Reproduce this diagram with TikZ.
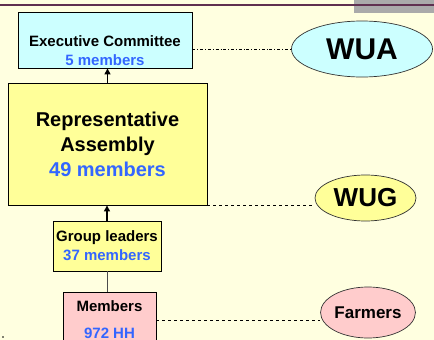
\documentclass[tikz,border=0pt]{standalone}
\usepackage{fontspec}
\setmainfont{Liberation Sans}
\usetikzlibrary{arrows.meta, positioning, shapes.geometric}
\definecolor{orgCream}{RGB}{255, 255, 224}
\definecolor{orgCyan}{RGB}{204, 255, 255}
\definecolor{orgYellow}{RGB}{255, 255, 153}
\definecolor{orgPink}{RGB}{255, 204, 204}
\definecolor{orgBlue}{RGB}{51, 102, 255}
\definecolor{orgPurple}{RGB}{96, 48, 80}
\definecolor{orgGray}{RGB}{170, 170, 170}
\tikzset{
    orgBox/.style={draw=black, line width=0.9pt, inner sep=0pt, font=\bfseries, align=center},
    orgEllipse/.style={ellipse, draw=black!80, line width=0.7pt, inner sep=0pt, font=\bfseries},
    upArrow/.style={line width=1.6pt, -{Triangle[length=6pt, width=6pt]}},
    linkLine/.style={line width=0.7pt},
}

\begin{document}
\begin{tikzpicture}[x=1pt, y=-1pt]

    % BACKGROUND AND HEADER
    \fill[orgCream] (0,0) rectangle (434,340);
    \useasboundingbox (0,0) rectangle (434,340);
    \clip (0,0) rectangle (434,340);
    \fill[orgGray] (354,0) rectangle (434,12.5);
    \draw[orgPurple, line width=1.3pt] (0,5) -- (434,5);

    % BOXES
    \node[orgBox, fill=orgCyan, minimum width=174pt, minimum height=56pt] (execBox) at (105,40) {};
    \node[font=\bfseries\fontsize{15}{19}\selectfont, align=center] (execText) at (105,50.5)
        {Executive Committee\\\textcolor{orgBlue}{5 members}};

    \node[orgBox, fill=orgYellow, minimum width=199pt, minimum height=122pt,
          font=\bfseries\fontsize{20}{25}\selectfont] (reprBox) at (107.5,144)
        {Representative\\Assembly\\\textcolor{orgBlue}{49 members}};

    \node[orgBox, fill=orgYellow, minimum width=108pt, minimum height=50pt,
          font=\bfseries\fontsize{15}{19}\selectfont] (grpBox) at (107,246)
        {Group leaders\\\textcolor{orgBlue}{37 members}};

    \node[orgBox, fill=orgPink, minimum width=93pt, minimum height=56pt,
          font=\bfseries\fontsize{15}{19}\selectfont] (membBox) at (109.5,320)
        {Members\\[8pt]\textcolor{orgBlue}{972 HH}};

    % ELLIPSES
    \node[orgEllipse, fill=orgCyan, minimum width=141pt, minimum height=56pt,
          font=\bfseries\fontsize{30}{30}\selectfont] (wua) at (362,49) {WUA};
    \node[orgEllipse, fill=orgYellow, minimum width=101pt, minimum height=46pt,
          font=\bfseries\fontsize{26}{26}\selectfont] (wug) at (365.5,198) {WUG};
    \node[orgEllipse, fill=orgPink, minimum width=86pt, minimum height=51pt,
          font=\bfseries\fontsize{17}{17}\selectfont] (farmers) at (368,312.5) {Farmers};

    % CONNECTORS
    \draw[upArrow] (reprBox.north) -- (reprBox.north |- execBox.south);
    \draw[upArrow] (grpBox.north) -- (grpBox.north |- reprBox.south);
    \draw[linkLine, black!70] (grpBox.south) -- (grpBox.south |- membBox.north);

    \draw[linkLine, dash dot] (execBox.east |- wua.west) -- (wua.west);
    \draw[linkLine, dashed] (reprBox.south east) -- (reprBox.south east -| wug.west);
    \draw[linkLine, dashed] (membBox.east) -- (membBox.east -| farmers.west);

    \fill (3,337) circle (0.8pt);

\end{tikzpicture}
\end{document}
